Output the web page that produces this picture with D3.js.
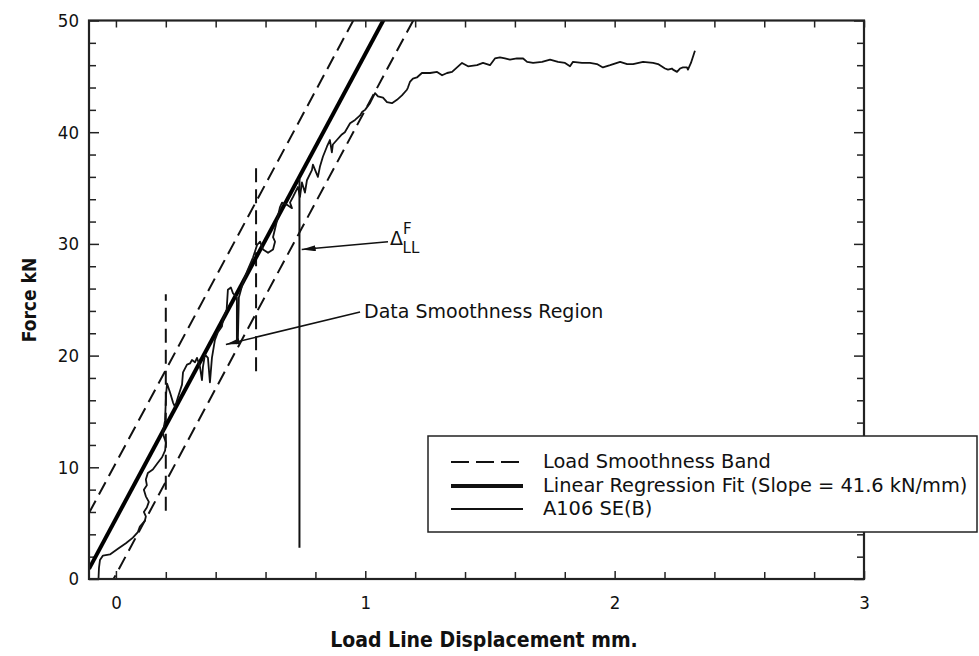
<!DOCTYPE html>
<html>
<head>
<meta charset="utf-8">
<script src="https://cdn.jsdelivr.net/npm/d3@7"></script>
<style>
  html, body { margin: 0; padding: 0; background: #fff; }
  svg { display: block; }
  text { font-family: "DejaVu Sans", sans-serif; fill: #111; }
</style>
</head>
<body>
<svg id="chart" width="979" height="656"></svg>
<script>
// ---------------- data ----------------
const dispMm = [-0.070,-0.068,-0.064,-0.052,-0.024,0.008,0.040,0.068,0.088,0.096,
  0.116,0.120,0.112,0.124,0.132,0.120,0.112,0.124,0.120,0.128,
  0.148,0.168,0.185,0.197,0.201,0.193,0.188,0.197,0.201,0.205,
  0.217,0.229,0.237,0.249,0.265,0.269,0.285,0.297,0.305,0.317,
  0.325,0.337,0.345,0.349,0.357,0.369,0.377,0.385,0.397,0.409,
  0.425,0.429,0.444,0.449,0.461,0.469,
  0.485,0.485,0.489,0.493,
  0.509,0.529,0.550,0.566,0.578,0.590,0.610,0.630,0.638,0.630,
  0.646,0.658,0.666,0.686,0.706,0.698,0.710,0.730,0.738,0.746,
  0.758,0.766,0.786,0.790,0.810,0.818,0.830,0.846,0.858,0.866,
  0.870,0.886,0.906,0.918,0.939,0.959,0.979,0.987,0.999,1.019,
  1.039,1.051,1.071,1.087,1.107,1.127,1.147,1.167,1.171,1.179,
  1.191,1.207,1.227,1.260,1.288,1.308,1.328,1.348,1.368,1.388,
  1.412,1.448,1.472,1.500,1.520,1.540,1.560,1.580,1.608,1.633,
  1.649,1.673,1.709,1.741,1.773,1.801,1.821,1.833,1.869,1.901,
  1.929,1.953,1.982,2.022,2.050,2.074,2.114,2.154,2.174,2.202,
  2.214,2.230,2.234,2.250,2.262,2.274,2.290,2.294,2.306,2.322];
const forceKN = [0.0,1.0,1.7,2.1,2.2,2.7,3.2,3.7,4.2,4.7,
  5.2,5.6,6.0,6.4,6.9,7.4,8.0,8.4,8.9,9.5,
  9.8,10.4,10.9,11.5,12.2,12.7,13.1,14.2,16.5,17.5,
  16.7,15.8,15.4,16.3,17.4,18.5,19.2,19.3,19.6,19.4,
  19.8,19.0,17.8,19.0,20.1,19.8,17.6,19.8,21.4,22.1,
  22.6,23.2,24.1,25.9,26.1,25.6,
  25.2,21.1,21.4,25.2,
  26.5,27.7,28.8,29.9,30.2,29.5,29.2,29.5,30.2,30.6,
  32.1,33.3,33.7,33.5,33.2,33.7,34.2,35.1,34.2,35.5,
  34.6,35.7,36.6,37.1,36.0,36.9,37.8,38.7,39.3,38.2,
  38.9,39.3,39.8,40.0,40.8,41.1,41.5,41.8,42.0,42.6,
  43.5,43.2,43.1,42.7,42.6,42.9,43.3,43.8,44.0,44.5,
  44.8,44.9,45.3,45.3,45.4,45.1,45.3,45.4,45.8,46.2,
  45.9,46.0,46.2,46.0,46.6,46.7,46.6,46.5,46.6,46.6,
  46.3,46.2,46.3,46.5,46.3,46.2,45.9,46.3,46.2,46.2,
  46.1,45.8,46.0,46.3,46.1,46.1,46.3,46.2,46.1,45.7,
  45.6,45.7,45.6,45.4,45.7,45.8,45.8,45.6,46.2,47.3];

const fitSlope = 41.6;        // kN/mm
const fitIntercept = 5.4;     // kN
const bandHalfWidth = 5.0;    // kN

// vertical markers: [displacement, fromForce, toForce]
const bandLimitMarkers = [[0.2, 6.1, 25.5], [0.562, 18.6, 37.4]];
const deltaMarker = [0.736, 2.8, 35.8];

const xDomain = [-0.108, 3];
const yDomain = [0, 50];
const xMajorTicks = [0, 1, 2, 3];
const xMinorTicks = [0.2,0.4,0.6,0.8,1.2,1.4,1.6,1.8,2.2,2.4,2.6,2.8];
const yMajorTicks = [0, 10, 20, 30, 40, 50];
const yMinorTicks = [2,4,6,8,12,14,16,18,22,24,26,28,32,34,36,38,42,44,46,48];

const legendLabels = ["Load Smoothness Band", "Linear Regression Fit (Slope = 41.6 kN/mm)", "A106 SE(B)"];
const xTitle = "Load Line Displacement mm.";
const yTitle = "Force kN";
const smoothText = "Data Smoothness Region";
// annotation anchors (data coords)
const deltaLabelAt = [1.099, 29.9];
const deltaArrow = [[1.091, 30.2], [0.745, 29.5]];
const smoothLabelAt = [0.995, 23.4];
const smoothArrow = [[0.979, 23.9], [0.441, 21.0]];

// ---------------- layout ----------------
const L = 89, R = 864, T = 20.5, B = 579;
const svg = d3.select("#chart");

const x = d3.scaleLinear().domain(xDomain).range([L, R]);
const y = d3.scaleLinear().domain(yDomain).range([B, T]);

const defs = svg.append("defs");
defs.append("clipPath").attr("id", "plotClip")
  .append("rect").attr("x", L).attr("y", T).attr("width", R - L).attr("height", B - T);
defs.append("marker").attr("id", "arrow").attr("viewBox", "0 0 14 6")
  .attr("refX", 14).attr("refY", 3).attr("markerWidth", 14).attr("markerHeight", 6)
  .attr("markerUnits", "userSpaceOnUse").attr("orient", "auto")
  .append("path").attr("d", "M0,0 L14,3 L0,6 Z").attr("fill", "#111");

// ---------------- axes ----------------
function styleAxis(g) {
  g.select(".domain").remove();
  g.selectAll(".tick line").attr("stroke", "#222").attr("stroke-width", 1.5);
  g.selectAll(".tick text").style("font-family", '"DejaVu Sans Condensed", "DejaVu Sans", sans-serif')
    .style("font-size", "18.5px").attr("fill", "#111");
}
svg.append("g").attr("transform", `translate(0,${B})`)
  .call(d3.axisBottom(x).tickValues(xMajorTicks).tickSize(-8).tickPadding(17).tickFormat(d3.format("d")))
  .call(styleAxis);
svg.append("g").attr("transform", `translate(0,${B})`)
  .call(d3.axisBottom(x).tickValues(xMinorTicks).tickSize(-7).tickFormat(""))
  .call(styleAxis);
svg.append("g").attr("transform", `translate(0,${T})`)
  .call(d3.axisTop(x).tickValues(xMajorTicks.concat(xMinorTicks)).tickSize(-7).tickFormat(""))
  .call(styleAxis);
svg.append("g").attr("transform", `translate(${L},0)`)
  .call(d3.axisLeft(y).tickValues(yMajorTicks).tickSize(-10).tickPadding(10).tickFormat(d3.format("d")))
  .call(styleAxis);
svg.append("g").attr("transform", `translate(${L},0)`)
  .call(d3.axisLeft(y).tickValues(yMinorTicks).tickSize(-7).tickFormat(""))
  .call(styleAxis);
svg.append("g").attr("transform", `translate(${R},0)`)
  .call(d3.axisRight(y).tickValues(yMajorTicks).tickSize(-10).tickFormat(""))
  .call(styleAxis);
svg.append("g").attr("transform", `translate(${R},0)`)
  .call(d3.axisRight(y).tickValues(yMinorTicks).tickSize(-7).tickFormat(""))
  .call(styleAxis);

// ---------------- plot content ----------------
const plot = svg.append("g").attr("clip-path", "url(#plotClip)");
const line = d3.line().x(d => x(d[0])).y(d => y(d[1]));

const fitLine = o => xDomain.map(d => [d, fitSlope * d + fitIntercept + o]);
[bandHalfWidth, -bandHalfWidth].forEach(o => {
  plot.append("path").attr("d", line(fitLine(o))).attr("fill", "none")
    .attr("stroke", "#111").attr("stroke-width", 2).attr("stroke-dasharray", "14,7");
});
bandLimitMarkers.forEach(m => {
  plot.append("path").attr("d", line([[m[0], m[1]], [m[0], m[2]]])).attr("fill", "none")
    .attr("stroke", "#111").attr("stroke-width", 2).attr("stroke-dasharray", "14,7");
});
plot.append("path").attr("d", line(fitLine(0))).attr("fill", "none")
  .attr("stroke", "#000").attr("stroke-width", 4);

plot.append("path").attr("d", line(dispMm.map((d, i) => [d, forceKN[i]]))).attr("fill", "none")
  .attr("stroke", "#111").attr("stroke-width", 1.8).attr("stroke-linejoin", "round");

plot.append("path").attr("d", line([[deltaMarker[0], deltaMarker[1]], [deltaMarker[0], deltaMarker[2]]]))
  .attr("fill", "none").attr("stroke", "#111").attr("stroke-width", 2);

// frame
svg.append("rect").attr("x", L).attr("y", T).attr("width", R - L).attr("height", B - T)
  .attr("fill", "none").attr("stroke", "#222").attr("stroke-width", 2.2);

// ---------------- annotations ----------------
svg.append("path").attr("d", line(deltaArrow)).attr("stroke", "#111").attr("stroke-width", 1.5)
  .attr("fill", "none").attr("marker-end", "url(#arrow)");
svg.append("path").attr("d", line(smoothArrow)).attr("stroke", "#111").attr("stroke-width", 1.5)
  .attr("fill", "none").attr("marker-end", "url(#arrow)");

const dl = svg.append("text").attr("x", x(deltaLabelAt[0])).attr("y", y(deltaLabelAt[1]))
  .style("font-size", "19px");
dl.append("tspan").text("Δ");
dl.append("tspan").attr("dy", -11).style("font-size", "15px").text("F");
dl.append("tspan").attr("dx", -9).attr("dy", 19).style("font-size", "15px").text("LL");

svg.append("text").attr("x", x(smoothLabelAt[0])).attr("y", y(smoothLabelAt[1]))
  .style("font-size", "19px").text(smoothText);

// ---------------- axis titles ----------------
svg.append("text").attr("x", 484).attr("y", 647).attr("text-anchor", "middle")
  .style("font-family", '"DejaVu Sans Condensed", "DejaVu Sans", sans-serif')
  .style("font-size", "21px").style("font-weight", "bold").text(xTitle);
svg.append("text").attr("transform", "translate(36,300) rotate(-90)").attr("text-anchor", "middle")
  .style("font-family", '"DejaVu Sans Condensed", "DejaVu Sans", sans-serif')
  .style("font-size", "19px").style("font-weight", "bold").text(yTitle);

// ---------------- legend ----------------
const lg = svg.append("g");
lg.append("rect").attr("x", 428).attr("y", 436).attr("width", 549).attr("height", 96)
  .attr("fill", "#fff").attr("stroke", "#222").attr("stroke-width", 1.5);
const legendStyles = [
  { w: 2, dash: "18,7" }, { w: 4, dash: null }, { w: 2, dash: null }
];
const rowY = [462, 486, 509];
legendLabels.forEach((lab, i) => {
  lg.append("line").attr("x1", 451).attr("x2", 523).attr("y1", rowY[i]).attr("y2", rowY[i])
    .attr("stroke", "#111").attr("stroke-width", legendStyles[i].w)
    .attr("stroke-dasharray", legendStyles[i].dash);
  lg.append("text").attr("x", 543).attr("y", rowY[i] + 6).style("font-size", "19.4px").text(lab);
});
</script>
</body>
</html>
